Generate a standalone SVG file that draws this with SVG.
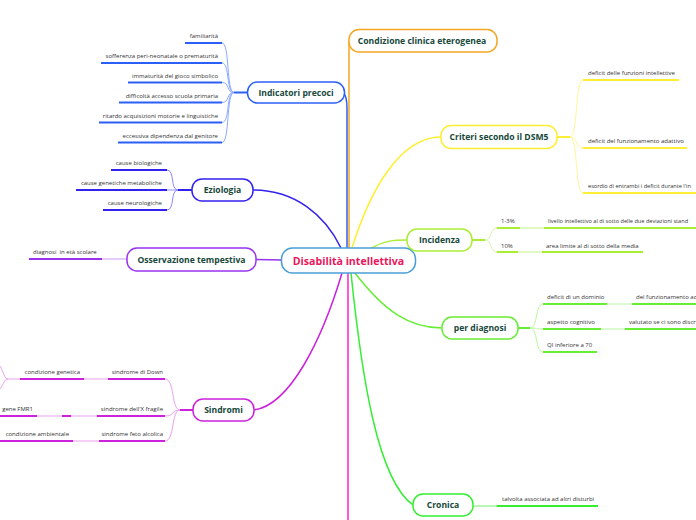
<svg xmlns="http://www.w3.org/2000/svg" width="696" height="520" viewBox="0 0 696 520">
<style>
.bg{fill:#ffffff}
.node{fill:#ffffff;stroke-width:1.5}
.lbl{font-family:"Open Sans","Noto Sans",sans-serif;font-weight:bold;font-size:8.6px;fill:#17483a;text-anchor:middle}
.main{font-family:"Open Sans","Noto Sans",sans-serif;font-weight:bold;font-size:10.6px;fill:#e8175d;text-anchor:middle}
.leaf{font-family:"Open Sans","Noto Sans",sans-serif;font-size:6px;fill:#333333}
.sm{font-size:5.6px}
.e{text-anchor:end}
.ul{stroke-width:2;fill:none}
.br{stroke-width:1;fill:none}
.cn{stroke-width:1.5;fill:none}
</style>
<rect class="bg" x="0" y="0" width="696" height="520"/>
<g id="connectors">
  <path class="cn" stroke="#f5a623" d="M349,248 L349,44 Q349,36 354,33"/>
  <path class="cn" stroke="#2c5ff5" d="M343,92 Q347,96 347,108 L347,248"/>
  <path class="cn" stroke="#3322ee" d="M253,190 C295,190 325,215 341,248"/>
  <path class="cn" stroke="#9933ee" d="M256,259.5 L282,260"/>
  <path class="cn" stroke="#cc22dd" d="M254,410 C290,405 322,340 342,273"/>
  <path class="cn" stroke="#ff22cc" d="M348,273 L348,520"/>
  <path class="cn" stroke="#33ee33" d="M351,273 C362,380 378,480 413,505"/>
  <path class="cn" stroke="#66ee33" d="M355,273 C385,312 410,328 442,328"/>
  <path class="cn" stroke="#aaee33" d="M370,249 C385,240 395,240 407,240"/>
  <path class="cn" stroke="#ffee33" d="M352,248 C370,190 400,137 441,137"/>
  <path class="ul" stroke="#2c5ff5" d="M247,92.5 L234,92.5"/>
  <g stroke="#8aa8ff" class="br">
    <path d="M234,92.5 C226,92.5 230,43 222,43"/>
    <path d="M234,92.5 C226,92.5 230,63 222,63"/>
    <path d="M234,92.5 C226,92.5 230,82.5 222,82.5"/>
    <path d="M234,92.5 C226,92.5 230,102.5 222,102.5"/>
    <path d="M234,92.5 C226,92.5 230,122.5 222,122.5"/>
    <path d="M234,92.5 C226,92.5 230,142.5 222,142.5"/>
  </g>
  <g stroke="#2c5ff5" class="ul">
    <path d="M185,43 H222"/>
    <path d="M101,63 H222"/>
    <path d="M128,82.5 H222"/>
    <path d="M119,102.5 H222"/>
    <path d="M99,122.5 H222"/>
    <path d="M118,142.5 H222"/>
  </g>
  <path class="ul" stroke="#3322ee" d="M192,190 L178,190"/>
  <g stroke="#8f86ff" class="br">
    <path d="M178,190 C170,190 175,170 167,170"/>
    <path d="M178,190 C172,190 172,190 167,190"/>
    <path d="M178,190 C170,190 175,210 167,210"/>
  </g>
  <g stroke="#3322ee" class="ul">
    <path d="M111,170 H167"/>
    <path d="M76,190 H167"/>
    <path d="M103,210 H167"/>
  </g>
  <path class="br" stroke="#cc99f7" d="M102,259 H127"/>
  <path class="ul" stroke="#9933ee" d="M29,259 H102"/>
  <path class="ul" stroke="#cc22dd" d="M193,410 L180,410"/>
  <g stroke="#e9a0f0" class="br">
    <path d="M180,410 C171,410 175,379 165,379"/>
    <path d="M180,410 C171,410 175,416 165,416"/>
    <path d="M180,410 C171,410 175,441 165,441"/>
    <path d="M84,379 H108"/>
    <path d="M37,416 H62"/>
    <path d="M71,416 H97"/>
    <path d="M73,441 H99"/>
    <path d="M20,379 H8 C4,379 4,372 0,366"/>
    <path d="M8,379 C4,379 4,384 0,389"/>
  </g>
  <g stroke="#cc22dd" class="ul">
    <path d="M108,379 H165"/>
    <path d="M97,416 H165"/>
    <path d="M99,441 H165"/>
    <path d="M20,379 H84"/>
    <path d="M0,416 H37"/>
    <path d="M62,416 H71"/>
    <path d="M0,441 H73"/>
  </g>
  <path class="ul" stroke="#ffee33" d="M557,137 L570,137"/>
  <g stroke="#fff59a" class="br">
    <path d="M570,137 C578,137 575,80 583,80"/>
    <path d="M570,137 C578,137 575,148 583,148"/>
    <path d="M570,137 C578,137 575,193 583,193"/>
  </g>
  <g stroke="#ffee33" class="ul">
    <path d="M583,80 H679"/>
    <path d="M583,148 H687"/>
    <path d="M583,193 H696"/>
  </g>
  <path class="ul" stroke="#aaee33" d="M472,240 L485,240"/>
  <g stroke="#d9f6a6" class="br">
    <path d="M485,240 C492,240 490,228 497,228"/>
    <path d="M485,240 C492,240 490,252 497,252"/>
  </g>
  <g stroke="#e4f9c2" class="ul">
    <path d="M520,228 H544"/>
    <path d="M518,252 H542"/>
  </g>
  <g stroke="#aaee33" class="ul">
    <path d="M497,228 H520"/>
    <path d="M544,228 H696"/>
    <path d="M497,252 H518"/>
    <path d="M542,252 H643"/>
  </g>
  <path class="ul" stroke="#66ee33" d="M518,328 L530,328"/>
  <g stroke="#b8f6a0" class="br">
    <path d="M530,328 C538,328 535,304 543,304"/>
    <path d="M530,328 C538,328 535,329 543,329"/>
    <path d="M530,328 C538,328 535,352 543,352"/>
    <path d="M607,304 H632"/>
    <path d="M601,329 H625"/>
  </g>
  <g stroke="#66ee33" class="ul">
    <path d="M543,304 H607"/>
    <path d="M632,304 H696"/>
    <path d="M543,329 H601"/>
    <path d="M625,329 H696"/>
    <path d="M543,352 H597"/>
  </g>
  <path class="ul" stroke="#b9f7b9" d="M473,506 H497"/>
  <path class="ul" stroke="#33ee33" d="M497,506 H598"/>
</g>
<g id="n-main">
  <rect class="node" stroke="#4a9fd8" x="281.5" y="248" width="134" height="25" rx="11"/>
  <text class="main" x="348.5" y="264.5">Disabilità intellettiva</text>
</g>
<g id="n-condizione">
  <rect class="node" stroke="#f5a623" x="349" y="29.5" width="148" height="22.5" rx="10"/>
  <text class="lbl" x="422" y="44">Condizione clinica eterogenea</text>
</g>
<g id="n-indicatori">
  <rect class="node" stroke="#2c5ff5" x="247.5" y="82" width="97" height="21" rx="10"/>
  <text class="lbl" x="296" y="95.5">Indicatori precoci</text>
</g>
<g id="l-indicatori">
  <text class="leaf e" x="218" y="38">familiarità</text>
  <text class="leaf e" x="218" y="57.5">sofferenza peri-neonatale o prematurità</text>
  <text class="leaf e" x="218" y="77.5">immaturità del gioco simbolico</text>
  <text class="leaf e" x="218" y="97.5">difficoltà accesso scuola primaria</text>
  <text class="leaf e" x="218" y="117.5">ritardo acquisizioni motorie e linguistiche</text>
  <text class="leaf e" x="218" y="138">eccessiva dipendenza dal genitore</text>
</g>
<g id="n-eziologia">
  <rect class="node" stroke="#3322ee" x="192" y="179" width="61" height="22" rx="10"/>
  <text class="lbl" x="222.5" y="193">Eziologia</text>
</g>
<g id="l-eziologia">
  <text class="leaf e" x="162" y="164.5">cause biologiche</text>
  <text class="leaf e" x="162" y="185">cause genetiche metaboliche</text>
  <text class="leaf e" x="162" y="205">cause neurologiche</text>
</g>
<g id="n-osservazione">
  <rect class="node" stroke="#9933ee" x="127" y="248" width="129" height="23" rx="10"/>
  <text class="lbl" x="191.5" y="262.5">Osservazione tempestiva</text>
</g>
<g id="l-osservazione">
  <text class="leaf" x="33" y="254">diagnosi&#160; in età scolare</text>
</g>
<g id="n-sindromi">
  <rect class="node" stroke="#cc22dd" x="193" y="399" width="61" height="22" rx="10"/>
  <text class="lbl" x="223.5" y="413">Sindromi</text>
</g>
<g id="l-sindromi">
  <text class="leaf e" x="163" y="374">sindrome di Down</text>
  <text class="leaf e" x="163" y="411">sindrome dell'X fragile</text>
  <text class="leaf e" x="163" y="435.5">sindrome feto alcolica</text>
  <text class="leaf e" x="80" y="374">condizione genetica</text>
  <text class="leaf e" x="33" y="411">gene FMR1</text>
  <text class="leaf e" x="69" y="435.5">condizione ambientale</text>
</g>
<g id="n-criteri">
  <rect class="node" stroke="#ffee33" x="441" y="125.5" width="116" height="23" rx="10"/>
  <text class="lbl" x="499" y="140">Criteri secondo il DSM5</text>
</g>
<g id="l-criteri">
  <text class="leaf" x="588" y="75">deficit delle funzioni intellettive</text>
  <text class="leaf" x="588" y="143">deficit del funzionamento adattivo</text>
  <text class="leaf sm" x="588" y="188">esordio di entrambi i deficit durante l'in</text>
</g>
<g id="n-incidenza">
  <rect class="node" stroke="#aaee33" x="407" y="229" width="65" height="22" rx="10"/>
  <text class="lbl" x="439.5" y="243">Incidenza</text>
</g>
<g id="l-incidenza">
  <text class="leaf" x="501" y="223">1-3%</text>
  <text class="leaf sm" x="548" y="223">livello intellettivo al di sotto delle due deviazioni stand</text>
  <text class="leaf" x="501" y="248">10%</text>
  <text class="leaf" x="546" y="248">area limite al di sotto della media</text>
</g>
<g id="n-diagnosi">
  <rect class="node" stroke="#66ee33" x="442" y="317" width="76" height="22" rx="10"/>
  <text class="lbl" x="480" y="331">per diagnosi</text>
</g>
<g id="l-diagnosi">
  <text class="leaf" x="547" y="299">deficit di un dominio</text>
  <text class="leaf" x="636" y="299">del funzionamento ad</text>
  <text class="leaf" x="547" y="324">aspetto cognitivo</text>
  <text class="leaf" x="629" y="324">valutato se ci sono discr</text>
  <text class="leaf" x="547" y="347">QI inferiore a 70</text>
</g>
<g id="n-cronica">
  <rect class="node" stroke="#33ee33" x="413" y="494" width="60" height="22" rx="10"/>
  <text class="lbl" x="443" y="508">Cronica</text>
</g>
<g id="l-cronica">
  <text class="leaf" x="502" y="501">talvolta associata ad altri disturbi</text>
</g>
</svg>
